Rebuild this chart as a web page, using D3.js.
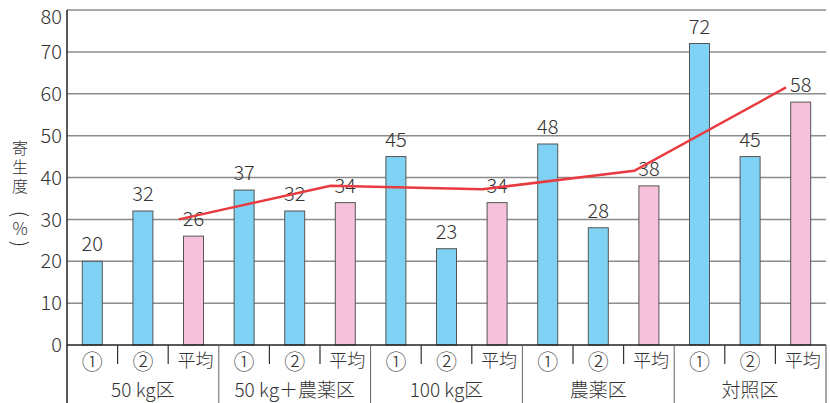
<!DOCTYPE html>
<html>
<head>
<meta charset="utf-8">
<script src="https://d3js.org/d3.v7.min.js"></script>
<style>
body { margin: 0; background: #fff; }
text { font-family: "Noto Sans CJK JP", "Noto Sans", sans-serif; font-weight: 300; fill: #333; }
</style>
</head>
<body>
<div id="chart"></div>
<script>
// data
var groups = ["50 kg区", "50 kg＋農薬区", "100 kg区", "農薬区", "対照区"];
var subs = ["①", "②", "平均"];
var values = [20, 32, 26, 37, 32, 34, 45, 23, 34, 48, 28, 38, 72, 45, 58];
var lineValues = [30, 38, 37.2, 41.6, 61.5];
var yTicks = [0, 10, 20, 30, 40, 50, 60, 70, 80];

var W = 830, H = 403;
var plotL = 67, plotR = 826, plotT = 10, base = 345;

var svg = d3.select("#chart").append("svg")
  .attr("width", W).attr("height", H);

// one slot per bar
var slots = [];
groups.forEach(function(g, gi) {
  subs.forEach(function(s, si) {
    slots.push({ id: gi + "-" + si, group: gi, sub: s, value: values[gi * 3 + si] });
  });
});

var x = d3.scaleBand().domain(slots.map(function(d) { return d.id; }))
  .range([plotL, plotR]).padding(0);
var y = d3.scaleLinear().domain([0, 80]).range([base, plotT]);
var bw = 20;

// gridlines
svg.append("g").selectAll("line")
  .data(yTicks.filter(function(t) { return t > 0; }))
  .enter().append("line")
    .attr("x1", plotL).attr("x2", plotR)
    .attr("y1", function(d) { return y(d); })
    .attr("y2", function(d) { return y(d); })
    .attr("stroke", "#8c8c8c")
    .attr("stroke-width", 1.5);

// y tick labels (top one pushed down so it stays inside)
svg.append("g").selectAll("text")
  .data(yTicks)
  .enter().append("text")
    .attr("x", 62)
    .attr("y", function(d) { return Math.max(y(d), 17); })
    .attr("dy", "0.36em")
    .attr("text-anchor", "end")
    .style("font-size", "20px")
    .text(function(d) { return d; });

// bars
svg.append("g").selectAll("rect")
  .data(slots)
  .enter().append("rect")
    .attr("x", function(d) { return x(d.id) + x.bandwidth() / 2 - bw / 2; })
    .attr("y", function(d) { return y(d.value); })
    .attr("width", bw)
    .attr("height", function(d) { return base - y(d.value); })
    .attr("fill", function(d) { return d.sub == "平均" ? "#f6c2db" : "#7fd2f3"; })
    .attr("stroke", "#555")
    .attr("stroke-width", 1);

// value labels
svg.append("g").selectAll("text")
  .data(slots)
  .enter().append("text")
    .attr("x", function(d) { return x(d.id) + x.bandwidth() / 2; })
    .attr("y", function(d) { return y(d.value) - 10; })
    .attr("text-anchor", "middle")
    .style("font-size", "20px")
    .text(function(d) { return d.value; });

// red line, drawn a little left of the 平均 bars
var avgSlots = slots.filter(function(d) { return d.sub == "平均"; });
svg.append("path")
  .datum(lineValues)
  .attr("d", d3.line()
    .x(function(d, i) { return x(avgSlots[i].id) + x.bandwidth() * 0.21; })
    .y(function(d) { return y(d); }))
  .attr("fill", "none")
  .attr("stroke", "#e83a3f")
  .attr("stroke-width", 2.5);

// baseline and y axis
svg.append("line")
  .attr("x1", plotL).attr("x2", plotR)
  .attr("y1", base).attr("y2", base)
  .attr("stroke", "#222").attr("stroke-width", 1.5);
svg.append("line")
  .attr("x1", plotL).attr("x2", plotL)
  .attr("y1", plotT).attr("y2", H)
  .attr("stroke", "#222").attr("stroke-width", 1.5);
svg.append("line")
  .attr("x1", plotR).attr("x2", plotR)
  .attr("y1", base).attr("y2", H)
  .attr("stroke", "#555").attr("stroke-width", 1);

// short ticks between ① ② 平均
svg.append("g").selectAll("line")
  .data(slots.filter(function(d) { return d.sub != "①"; }))
  .enter().append("line")
    .attr("x1", function(d) { return x(d.id); })
    .attr("x2", function(d) { return x(d.id); })
    .attr("y1", base).attr("y2", base + 19)
    .attr("stroke", "#333").attr("stroke-width", 1.2);

// group dividers
svg.append("g").selectAll("line")
  .data(slots.filter(function(d) { return d.sub == "①" && d.group > 0; }))
  .enter().append("line")
    .attr("x1", function(d) { return x(d.id); })
    .attr("x2", function(d) { return x(d.id); })
    .attr("y1", base).attr("y2", H)
    .attr("stroke", "#666").attr("stroke-width", 1);

// sub labels
svg.append("g").selectAll("text")
  .data(slots)
  .enter().append("text")
    .attr("x", function(d) { return x(d.id) + x.bandwidth() / 2 + (d.sub == "平均" ? 2 : 0); })
    .attr("y", base + 16)
    .attr("dy", "0.36em")
    .attr("text-anchor", "middle")
    .style("font-size", function(d) { return d.sub == "平均" ? "18px" : "21px"; })
    .text(function(d) { return d.sub; });

// group labels
svg.append("g").selectAll("text")
  .data(groups)
  .enter().append("text")
    .attr("x", function(d, i) { return x(i + "-1") + x.bandwidth() / 2; })
    .attr("y", base + 45)
    .attr("dy", "0.36em")
    .attr("text-anchor", "middle")
    .style("font-size", "19px")
    .text(function(d) { return d; });

// vertical y label 寄生度（%）
var yl = svg.append("g");
yl.append("text")
  .attr("x", 20).attr("y", 168)
  .attr("text-anchor", "middle")
  .style("writing-mode", "vertical-rl")
  .style("letter-spacing", "3px")
  .style("font-size", "16px")
  .text("寄生度");
yl.append("text")
  .attr("transform", "translate(20,214) rotate(90)")
  .attr("dy", "0.34em")
  .attr("text-anchor", "middle")
  .style("font-size", "20px")
  .text("(");
yl.append("text")
  .attr("x", 20).attr("y", 229)
  .attr("dy", "0.36em")
  .attr("text-anchor", "middle")
  .style("font-size", "17px")
  .text("%");
yl.append("text")
  .attr("transform", "translate(20,244) rotate(90)")
  .attr("dy", "0.34em")
  .attr("text-anchor", "middle")
  .style("font-size", "20px")
  .text(")");
</script>
</body>
</html>
